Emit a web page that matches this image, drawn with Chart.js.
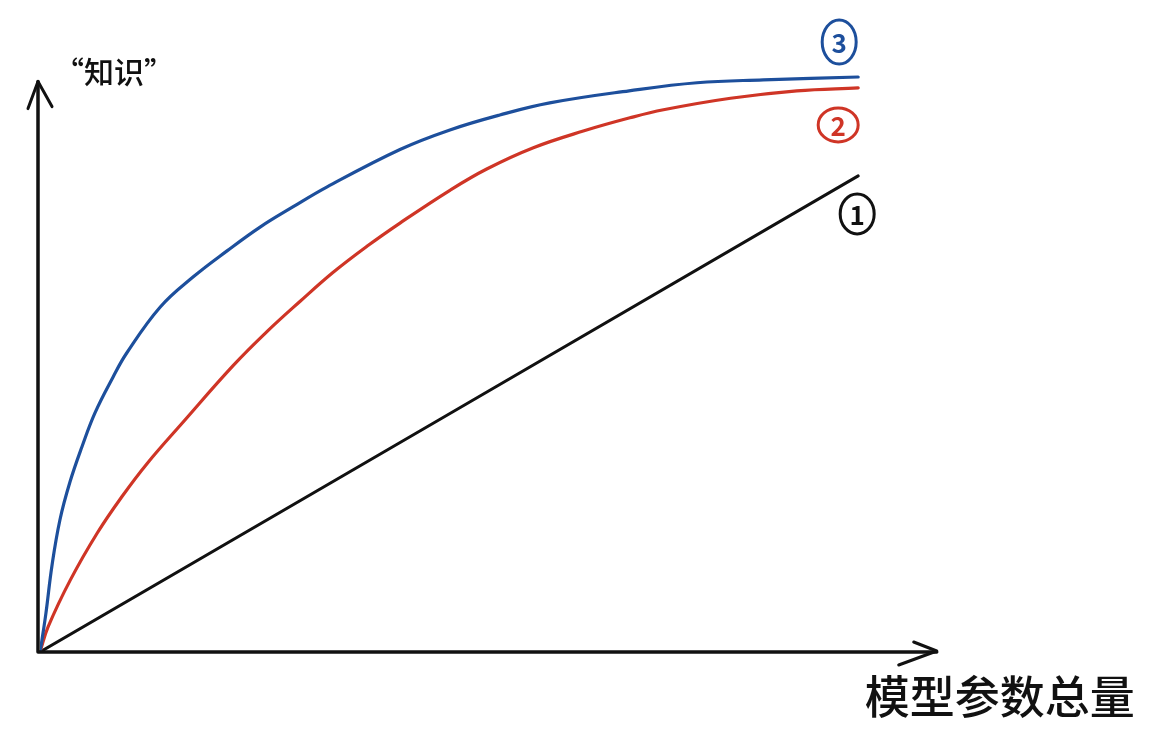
<!DOCTYPE html>
<html>
<head>
<meta charset="utf-8">
<script src="https://cdn.jsdelivr.net/npm/chart.js@4"></script>
<style>
    html, body { margin: 0; padding: 0; background: #fff; }
    #wrap { width: 1158px; height: 732px; position: relative; }
</style>
</head>
<body>
<div id="wrap"><canvas id="chart"></canvas></div>
<script>
// sketch: knowledge vs. total model params

// curve 3 (blue)
const blueX = [0, 0.24, 0.73, 1.47, 2.44, 3.67, 5.13, 6.72, 8.92, 10.6, 14.7, 18.7, 22.9, 26.9, 30.9, 35.1, 44, 50.1, 56.2, 62.3, 72, 80.3, 88.4, 100];
const blueY = [0, 2.1, 6.8, 15.1, 23, 29.6, 35.7, 41.6, 47.8, 52, 60, 65.2, 69.8, 73.9, 77.4, 80.9, 87.4, 90.8, 93.4, 95.5, 97.6, 99, 99.5, 100];

// curve 2 (red)
const redX = [0, 1, 3.7, 7, 10, 13.1, 17.5, 23.6, 27.8, 31.8, 35.8, 40, 44, 50.1, 54.6, 60.3, 66.4, 72.1, 76.2, 84.4, 92.5, 100];
const redY = [0, 4.4, 12.5, 20.7, 27, 32.8, 40, 49.8, 55.8, 61, 66, 70.6, 74.6, 80.3, 84, 87.7, 90.6, 92.9, 94.3, 96.3, 97.6, 98.1];

// curve 1 (black, straight)
const blackX = [0, 100];
const blackY = [0, 82.8];

const yLabel = '“知识”';
const xLabel = '模型参数总量';
const curveTags = ['1', '2', '3'];

const BLUE = '#1d4f9c';
const RED = '#cf3526';
const INK = '#111';
const HAND = '"Noto Sans CJK SC", "Noto Sans", sans-serif';

function toPoints(xs, ys) {
    return xs.map((x, i) => ({ x: x, y: ys[i] }));
}

// hand drawn axes, arrows, labels
const sketchPlugin = {
    id: 'sketch',
    afterDatasetsDraw(chart) {
        const ctx = chart.ctx;
        const xs = chart.scales.x;
        const ys = chart.scales.y;
        const ox = xs.getPixelForValue(0);
        const oy = ys.getPixelForValue(0);
        const xEnd = xs.getPixelForValue(109.6);
        const yEnd = ys.getPixelForValue(99.2);

        ctx.save();
        ctx.strokeStyle = INK;
        ctx.lineWidth = 3.5;
        ctx.lineCap = 'round';
        ctx.lineJoin = 'round';

        // axes
        ctx.beginPath();
        ctx.moveTo(ox - 2, oy);
        ctx.lineTo(xEnd, oy);
        ctx.moveTo(ox - 2, oy);
        ctx.lineTo(ox - 2, yEnd);
        ctx.stroke();

        // arrow heads
        ctx.lineWidth = 3;
        ctx.beginPath();
        ctx.moveTo(xEnd - 23, oy - 10);
        ctx.lineTo(xEnd, oy - 1);
        ctx.lineTo(xEnd - 38, oy + 13);
        ctx.moveTo(ox - 12, yEnd + 27);
        ctx.lineTo(ox - 2, yEnd);
        ctx.lineTo(ox + 12, yEnd + 25);
        ctx.stroke();

        // axis titles
        ctx.fillStyle = INK;
        ctx.textBaseline = 'middle';
        ctx.textAlign = 'left';
        ctx.font = '500 30px ' + HAND;
        ctx.fillText(yLabel, ox + 14, yEnd - 10);
        ctx.font = '500 45px ' + HAND;
        ctx.fillText(xLabel, xEnd - 72, oy + 45);

        // circled tags at the curve ends
        const tags = [
            { ds: 2, color: INK, dx: -1, dy: 38, rx: 17, ry: 20, tag: curveTags[0] },
            { ds: 1, color: RED, dx: -20, dy: 37, rx: 20, ry: 17, tag: curveTags[1] },
            { ds: 0, color: BLUE, dx: -19, dy: -35, rx: 17, ry: 22, tag: curveTags[2] }
        ];
        tags.forEach(t => {
            const pts = chart.getDatasetMeta(t.ds).data;
            const end = pts[pts.length - 1];
            const cx = end.x + t.dx;
            const cy = end.y + t.dy;
            ctx.strokeStyle = t.color;
            ctx.fillStyle = t.color;
            ctx.lineWidth = 3;
            ctx.beginPath();
            ctx.ellipse(cx, cy, t.rx, t.ry, 0, 0, Math.PI * 2);
            ctx.stroke();
            ctx.font = '600 26px ' + HAND;
            ctx.textAlign = 'center';
            ctx.fillText(t.tag, cx, cy + 1);
        });
        ctx.restore();
    }
};

document.addEventListener('DOMContentLoaded', () => {
    const canvas = document.getElementById('chart');
    canvas.width = 1158;
    canvas.height = 732;

    new Chart(canvas, {
        type: 'scatter',
        data: {
            datasets: [
                { label: '3', data: toPoints(blueX, blueY), borderColor: BLUE, borderWidth: 3.2 },
                { label: '2', data: toPoints(redX, redY), borderColor: RED, borderWidth: 3.2 },
                { label: '1', data: toPoints(blackX, blackY), borderColor: INK, borderWidth: 3 }
            ]
        },
        options: {
            responsive: false,
            animation: false,
            showLine: true,
            elements: {
                point: { radius: 0, hoverRadius: 0 },
                line: { tension: 0.4, borderCapStyle: 'round' }
            },
            layout: { padding: { left: 40, right: 218, top: 19.5, bottom: 80 } },
            plugins: {
                legend: { display: false },
                tooltip: { enabled: false }
            },
            scales: {
                x: { type: 'linear', min: 0, max: 110, display: false },
                y: { type: 'linear', min: 0, max: 110, display: false }
            }
        },
        plugins: [sketchPlugin]
    });
});
</script>
</body>
</html>
